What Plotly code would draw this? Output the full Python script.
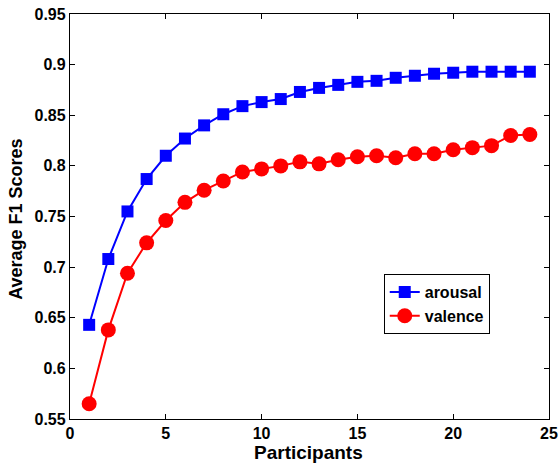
import plotly.graph_objects as go

participants = list(range(1, 25))
arousal = [0.643, 0.708, 0.755, 0.787, 0.810, 0.827, 0.840, 0.851, 0.859, 0.863,
           0.866, 0.873, 0.877, 0.880, 0.883, 0.884, 0.887, 0.889, 0.891, 0.892,
           0.893, 0.893, 0.893, 0.893]
valence = [0.565, 0.638, 0.694, 0.724, 0.746, 0.764, 0.776, 0.785, 0.794, 0.797,
           0.800, 0.804, 0.802, 0.806, 0.809, 0.810, 0.808, 0.812, 0.812, 0.816,
           0.818, 0.820, 0.830, 0.831]
x_ticks = [0, 5, 10, 15, 20, 25]
x_labels = ["0", "5", "10", "15", "20", "25"]
y_ticks = [0.55, 0.6, 0.65, 0.7, 0.75, 0.8, 0.85, 0.9, 0.95]
y_labels = ["0.55", "0.6", "0.65", "0.7", "0.75", "0.8", "0.85", "0.9", "0.95"]

FONT = "Liberation Sans"

fig = go.Figure()
fig.add_trace(go.Scatter(x=participants, y=arousal, name="<b>arousal</b>", mode="lines+markers",
                         line=dict(color="#0000ff", width=2),
                         marker=dict(symbol="square", size=12, color="#0000ff")))
fig.add_trace(go.Scatter(x=participants, y=valence, name="<b>valence</b>", mode="lines+markers",
                         line=dict(color="#ff0000", width=2),
                         marker=dict(symbol="circle", size=15, color="#ff0000")))

axis_common = dict(showgrid=False, zeroline=False, showline=True, linecolor="black",
                   linewidth=1.3, mirror="ticks", ticks="inside", ticklen=5,
                   tickcolor="black", tickwidth=1, automargin=False,
                   tickfont=dict(family=FONT, size=16, color="black"))

fig.update_layout(
    width=560, height=466,
    margin=dict(l=70, r=11, t=14, b=47),
    paper_bgcolor="white", plot_bgcolor="white",
    xaxis=dict(range=[0, 25], tickvals=x_ticks, ticktext=[f"<b>{t}</b>" for t in x_labels],
               **axis_common),
    yaxis=dict(range=[0.55, 0.95], tickvals=y_ticks, ticktext=[f"<b>{t}</b>" for t in y_labels],
               **axis_common),
    legend=dict(x=0.655, y=0.358, xanchor="left", yanchor="top",
                bordercolor="black", borderwidth=1, bgcolor="white",
                font=dict(family=FONT, size=16, color="black"),
                tracegroupgap=0),
    showlegend=True,
    annotations=[
        dict(text="<b>Participants</b>", xref="paper", yref="paper", x=0.4987, y=-0.052,
             xanchor="center", yanchor="top", showarrow=False,
             font=dict(family=FONT, size=19, color="black")),
        dict(text="<b>Average F1 Scores</b>", xref="paper", yref="paper", x=-0.113, y=0.494,
             xanchor="center", yanchor="middle", textangle=-90, showarrow=False,
             font=dict(family=FONT, size=18, color="black")),
    ],
)

fig.write_html("out.html", config={"displayModeBar": False},
               post_script="document.body.style.margin='0';document.body.style.overflow='hidden';")
